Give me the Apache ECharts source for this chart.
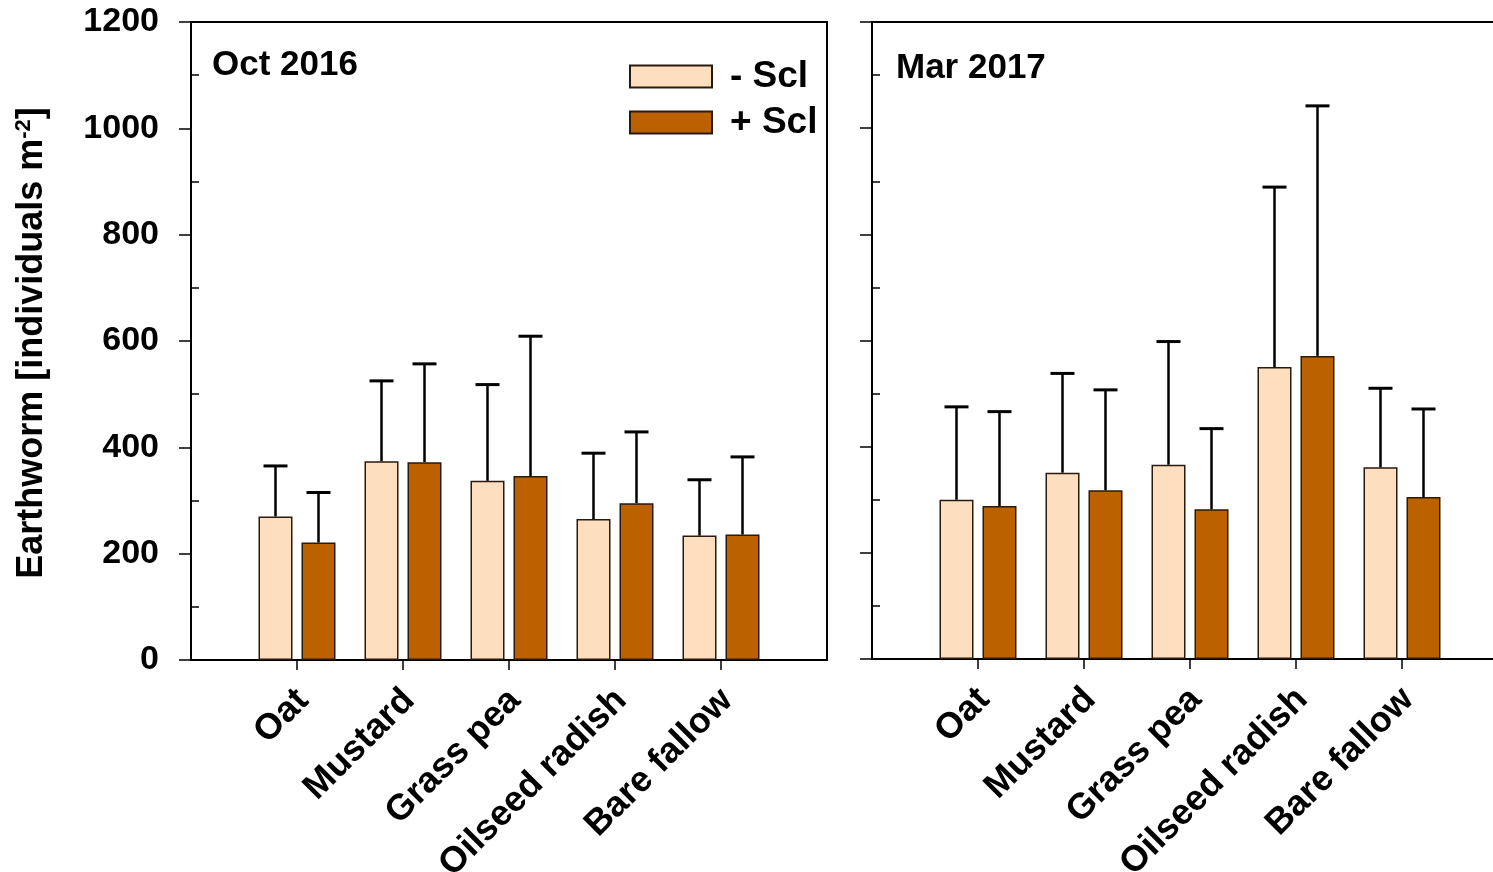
<!DOCTYPE html>
<html><head><meta charset="utf-8">
<script src="https://cdn.jsdelivr.net/npm/echarts@6/dist/echarts.min.js"></script>
<style>html,body{margin:0;padding:0;background:#fff;overflow:hidden}#c{width:1530px;height:872px}</style>
</head><body><div id="c"></div>
<script>
const categories = ['Oat', 'Mustard', 'Grass pea', 'Oilseed radish', 'Bare fallow'];
const panelTitles = ['Oct 2016', 'Mar 2017'];
const seriesNames = ['- Scl', '+ Scl'];
const yMin = 0, yMax = 1200, yStep = 200;
const yMinorTicks = [100, 300, 500, 700, 900, 1100];

// Oct 2016 (means and upper error amounts)
const octMinus = [270, 374, 337, 265, 234];
const octMinusErr = [95, 151, 181, 124, 105];
const octPlus = [221, 372, 346, 295, 236];
const octPlusErr = [94, 185, 263, 134, 146];
// Mar 2017
const marMinus = [300, 351, 366, 550, 361];
const marMinusErr = [175, 187, 232, 339, 149];
const marPlus = [288, 318, 282, 571, 305];
const marPlusErr = [178, 189, 152, 471, 166];

const FONT = "'Liberation Sans', Arial, Helvetica, sans-serif";
const lightColor = '#FDDFBF';
const darkColor = '#BB6100';
const edgeColor = '#2a1a0e';
const BAR_W = 34, BAR_GAP = 9;
const OFF = (BAR_W + BAR_GAP) / 2;

const axisCats = [''].concat(categories, ['']);
const pad = arr => [null].concat(arr, [null]);
const inner = (i) => i > 0 && i < axisCats.length - 1;

function errData(means, errs) {
  return means.map((m, i) => [i + 1, m, m + errs[i]]);
}
function errRender(offset) {
  return function (params, api) {
    const x = api.value(0), lo = api.value(1), hi = api.value(2);
    const p0 = api.coord([x, lo]), p1 = api.coord([x, hi]);
    const cx = p0[0] + offset;
    return {
      type: 'group', children: [
        { type: 'line', shape: { x1: cx, y1: p0[1], x2: cx, y2: p1[1] }, style: { stroke: '#000', lineWidth: 2.5 } },
        { type: 'line', shape: { x1: cx - 12, y1: p1[1], x2: cx + 12, y2: p1[1] }, style: { stroke: '#000', lineWidth: 3 } }
      ]
    };
  };
}

function xAxis(g) {
  return {
    gridIndex: g, type: 'category', data: axisCats, boundaryGap: false,
    axisLine: { show: true, lineStyle: { color: '#000', width: 2 } },
    axisTick: { show: true, interval: inner, length: 10, lineStyle: { color: '#000', width: 1.5 } },
    axisLabel: { interval: inner, rotate: 45, margin: 29, verticalAlign: 'top', lineHeight: 17, fontSize: 36, fontWeight: 'bold', color: '#000', fontFamily: FONT },
    splitLine: { show: false }
  };
}
function yAxis(g, labels) {
  return {
    gridIndex: g, type: 'value', min: yMin, max: yMax, interval: yStep, position: 'left',
    axisLine: { show: true, lineStyle: { color: '#000', width: 2 } },
    axisTick: { show: true, inside: false, length: 12, lineStyle: { color: '#000', width: 1.5 } },
    splitLine: { show: false },
    axisLabel: { show: labels, margin: 32, fontSize: 34, fontWeight: 'bold', color: '#000', fontFamily: FONT, formatter: v => String(v) }
  };
}
function yMinorAxis(g) {
  return {
    gridIndex: g, type: 'value', min: yMin, max: yMax, interval: yStep, position: 'left', offset: 0,
    axisLine: { show: false },
    axisTick: { show: true, inside: true, length: 8, customValues: yMinorTicks, lineStyle: { color: '#000', width: 1.5 } },
    splitLine: { show: false },
    axisLabel: { show: false }
  };
}
function bar(name, data, color, g) {
  return {
    name, type: 'bar', xAxisIndex: g, yAxisIndex: g, data: pad(data),
    barWidth: BAR_W, barGap: (BAR_GAP / BAR_W * 100) + '%',
    itemStyle: { color, borderColor: edgeColor, borderWidth: 1.5 }, z: 2
  };
}
function err(data, offset, g) {
  return {
    name: 'err', type: 'custom', xAxisIndex: g, yAxisIndex: g, data,
    renderItem: errRender(offset), encode: { x: 0, y: [1, 2] }, z: 3, silent: true
  };
}

const chart = echarts.init(document.getElementById('c'), null, { renderer: 'canvas' });
chart.setOption({
  animation: false,
  backgroundColor: '#fff',
  textStyle: { fontFamily: FONT },
  grid: [
    { left: 191, top: 22, width: 636, height: 638, show: true, borderColor: '#000', borderWidth: 2, backgroundColor: 'transparent', containLabel: false, outerBoundsMode: 'none' },
    { left: 872, top: 22, width: 636, height: 637, show: true, borderColor: '#000', borderWidth: 2, backgroundColor: 'transparent', containLabel: false, outerBoundsMode: 'none' }
  ],
  xAxis: [xAxis(0), xAxis(1)],
  yAxis: [yAxis(0, true), yAxis(1, false), yMinorAxis(0), yMinorAxis(1)],
  legend: {
    data: seriesNames, orient: 'vertical', left: 629, top: 58,
    itemWidth: 82, itemHeight: 22, itemGap: 9, icon: 'rect', padding: 0,
    textStyle: { fontSize: 37, fontWeight: 'bold', color: '#000', fontFamily: FONT, padding: [0, 0, 0, 13] },
    selectedMode: false
  },
  graphic: [
    { type: 'text', left: 212, top: 48, style: { text: panelTitles[0], font: 'bold 35px ' + FONT, fill: '#000' } },
    { type: 'text', left: 896, top: 51, style: { text: panelTitles[1], font: 'bold 35px ' + FONT, fill: '#000' } },
    {
      type: 'text', x: 32, y: 343, rotation: Math.PI / 2,
      style: {
        text: '{a|Earthworm [individuals m}{b|-2}{a|]}',
        align: 'center', verticalAlign: 'middle',
        rich: {
          a: { fontSize: 36, fontWeight: 'bold', fontFamily: FONT, fill: '#000', color: '#000' },
          b: { fontSize: 22, fontWeight: 'bold', fontFamily: FONT, fill: '#000', color: '#000', padding: [0, 0, 16, 0] }
        }
      }
    }
  ],
  series: [
    bar(seriesNames[0], octMinus, lightColor, 0),
    bar(seriesNames[1], octPlus, darkColor, 0),
    err(errData(octMinus, octMinusErr), -OFF, 0),
    err(errData(octPlus, octPlusErr), OFF, 0),
    bar(seriesNames[0], marMinus, lightColor, 1),
    bar(seriesNames[1], marPlus, darkColor, 1),
    err(errData(marMinus, marMinusErr), -OFF, 1),
    err(errData(marPlus, marPlusErr), OFF, 1)
  ]
});
</script></body></html>
